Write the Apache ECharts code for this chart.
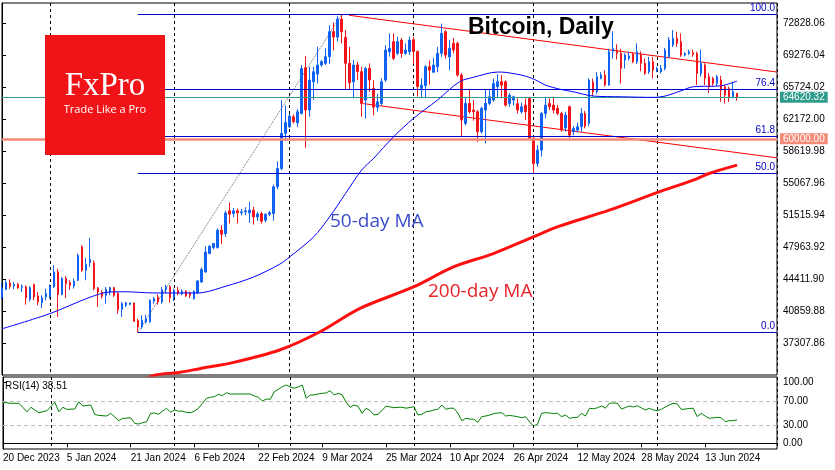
<!DOCTYPE html>
<html>
<head>
<meta charset="utf-8">
<script src="https://cdn.jsdelivr.net/npm/echarts@6/dist/echarts.min.js"></script>
<style>
  html, body { margin: 0; padding: 0; background: #fff; }
  #chart { width: 835px; height: 470px; }
</style>
</head>
<body>
<div id="chart"></div>
<script>
// daily candles, 20 Dec 2023 .. 21 Jun 2024
const open = [42400,43280,43980,43650,43840,43500,43540,42170,43800,42540,41790,42430,42430,43540,45210,42690,44470,44020,43650,44280,
  47990,45390,46240,46210,43430,42980,42610,42980,43460,42800,41060,41500,41610,41760,39830,39090,39650,39650,41940,42430,
  41870,43240,43540,42320,43170,42800,43060,42870,42240,42870,44095,45210,47245,47910,47910,49840,49470,51990,51690,51990,
  51770,51880,51770,52065,51320,51690,50950,51620,51690,54660,56700,60600,61330,62444,61777,62815,67900,63186,66337,67190,
  68190,68376,69117,71900,71300,73300,71267,68376,66337,68190,67449,64298,67820,65600,63500,63927,66522,69673,70785,69488,
  70971,69488,69673,71000,69700,65600,65900,68000,67400,68005,69500,71900,69100,70600,70600,67078,61703,63927,63186,63000,
  60776,63186,63927,64298,65781,66337,66337,63927,64298,63900,63000,63742,64484,60035,57255,58738,62815,63927,63742,63372,
  62816,61200,63557,60776,60962,61332,62800,61703,66300,65225,66700,67078,65966,69700,69850,69500,68750,68950,69400,68560,
  69300,68380,67450,68560,67630,67440,67820,69117,70415,71157,70786,69300,69490,69560,69490,67260,68190,66890,66700,66150,
  66520,65780,65600,64670,65040];
const high = [44000,44280,44390,44100,43980,43800,43720,43610,43910,42980,42610,43350,43800,45950,45580,44650,44760,44280,44470,47240,
  48170,46760,48990,46500,43540,43170,43540,43540,43540,42980,41870,41870,41800,41800,40020,40390,40460,42170,42430,42690,
  43540,43800,43720,43350,43540,43280,43170,43000,43170,44280,45690,48060,48170,48430,50030,50400,52000,52880,52300,52250,
  52200,52400,52990,52440,51900,51880,51700,52000,54900,57500,64300,63700,62800,62700,63300,68200,69200,68000,68000,70229,
  68750,70044,72600,72900,73650,73780,72083,70200,68750,68561,68005,68005,68376,66500,65000,66700,70400,71712,71712,71341,
  71200,70600,71341,71300,69800,66700,68200,68700,69000,70200,72800,72100,71000,71200,70800,67300,64650,65400,64300,63200,
  63557,65400,65400,66700,67200,67078,66500,65040,64800,64484,64000,64484,64669,60220,59294,63000,64669,64484,64669,63750,
  63000,63000,63700,61400,61800,63400,63100,66700,66700,67400,67400,67600,70000,71950,70500,70000,69500,69700,69600,70600,
  69700,68900,69100,69100,68000,68200,70100,71300,72083,71900,71700,69600,69900,69900,69670,69900,68380,67300,66900,67100,
  67000,66000,65800,66340,65100];
const low = [42200,43170,43350,43280,43350,42980,41570,41940,42060,41500,41200,42060,42240,43430,40200,42610,42320,43240,43350,44170,
  45210,44280,45760,43170,41310,42240,41680,42610,42430,40570,40200,41310,41500,39650,38500,38900,39460,39570,41680,41570,
  41680,42800,41800,41940,42610,42610,42430,42300,42130,42800,43980,45100,47170,47690,47800,48300,49100,50580,51300,50580,
  51500,51500,50660,50470,50900,50580,50700,51400,50900,54400,56500,59800,61200,61700,61300,62700,59000,62440,64300,66152,
  68000,68190,68300,69800,70800,70600,65410,65410,64480,66522,62440,62260,65225,62600,63000,63700,66300,69117,68747,69302,
  69000,69302,69302,68300,64700,64500,64500,66000,67300,67400,69100,68900,67600,69500,66900,60220,61500,62800,62000,59650,
  60590,59479,63742,64113,64500,64484,63557,63557,63700,62815,62800,62074,59900,56143,56884,58000,62259,63186,62815,62630,
  60780,60800,60100,60400,60700,60800,61150,61400,64700,65000,66600,65800,65900,68900,68800,66150,67800,68700,68400,68300,
  67500,67100,67200,66700,67400,67250,67600,68950,70200,70220,69100,69150,69300,69100,65966,66900,65966,65100,65900,65900,
  64113,63900,64100,64480,64220];
const close = [43450,44020,43610,43800,43430,43610,42320,43460,42430,41870,42320,42800,43610,45210,42720,44470,43910,43720,44170,47060,
  45390,46020,46610,43350,42980,42500,43280,43460,42610,41020,41680,41760,41760,39720,39090,39830,40020,42060,42240,41870,
  43240,43540,42320,43170,42800,43060,42540,42610,43060,44205,45470,47430,48060,48360,49840,49395,51760,51620,51990,51770,
  51880,51990,52065,51320,51650,50840,51620,51800,54660,56700,60600,61800,62520,61889,63000,67820,63190,66522,67449,68190,
  68561,69117,71900,71300,73300,71900,68376,66226,68190,67449,63927,67820,66522,63500,64100,66337,69858,70044,68932,70785,
  69488,69858,70971,69700,65800,65950,68000,67634,68190,69488,71712,69300,70044,69858,67078,62074,63927,63000,63000,60776,
  63371,63927,64669,66152,66337,65966,63742,64854,64669,63186,63557,63000,60035,57255,58738,62815,63742,63557,63186,62816,
  60962,62630,60406,61147,61332,62800,61400,66522,65200,66893,67078,65966,69673,70000,69500,67820,69300,69200,68560,69650,
  68380,67260,68560,67630,67820,67820,69860,70971,71157,70600,69300,69488,69670,69380,67260,68380,66700,65780,66150,66890,
  65410,64850,64670,65220,64620.32];

// moving averages as [day index, price]
const ma50 = [[0,38886],[12,40577],[22,42390],[27,42979],[31,43000],[38,42870],[49,42870],[56,43613],[63,44647],[69.5,46060],
  [72,46872],[78,49096],[82,51320],[86,53922],[90,56514],[93,57815],[98,60217],[103,62263],[109,64298],[114.5,66333],
  [118,66823],[124,67412],[126,67379],[131,66967],[134,66445],[136,65966],[139.5,65522],[143,65221],[148,64743],[155,64665],
  [163,64598],[166,64743],[170,65332],[173,65777],[180,65888],[184,66411]];
const ma200 = [[30,32300],[38.5,33755],[44,34016],[49.5,34461],[58,35161],[69.5,36529],[79.5,38531],[89.5,41133],[103,43535],
  [113,45759],[123,47250],[133,49096],[139.5,50286],[152,52065],[164.5,54100],[173,55401],[177,56146],[184,57070]];

// RSI(14) as [day index, value]
const rsi = [[0,67.5],[2,66],[4,66],[6,52],[7,59.4],[9,50.5],[11,53.8],[13,67.7],[14,52],[15,59.4],[16,56],[18,56.6],[19,68.6],
  [20,61.5],[22,63.2],[23,47.8],[24,46],[26,45],[27,49.5],[29,37.3],[30,41.2],[31,41.5],[32,42.2],[33,33],[34,31.8],[35,34],
  [36,35.6],[37,49.5],[38,50],[39,48],[40,53],[41,57.8],[42,51.2],[43,55],[44,53],[45,53],[46,51],[47,50.5],[48,53],[49,57.8],
  [50,66],[51,74.3],[52,76],[53,77],[54,80.9],[55,78.5],[56,83.5],[57,81],[58,81.4],[60,81.4],[62,81.4],[63,78],[64,76],
  [65,69.8],[66,73.1],[67,72.6],[68,85.1],[69,89],[70,93.4],[71,96.2],[72,93],[73,90.8],[74,93],[75,96.2],[76,74.3],[77,79.7],
  [78,80],[79,81.4],[80,82.5],[81,83],[82,86.8],[83,79.7],[84,82.5],[85,80],[86,68],[87,59.4],[88,63.2],[89,61],[90,49.5],
  [91,57.8],[92,54],[93,46.7],[94,48],[95,54],[96,61.5],[97,60],[98,58.7],[99,59.4],[100,59.4],[101,58],[102,59],[103,60.4],
  [104,46.7],[105,48],[106,52],[107,53],[108,55],[109,56],[110,63.2],[111,56],[112,58],[113,57.8],[114,50],[115,37.3],
  [116,41.2],[117,40],[118,39.6],[119,34.7],[120,43.9],[121,45],[122,46.7],[123,49],[124,50],[125,50.5],[126,45],[127,46],
  [128,45],[129,43.9],[130,42.2],[131,43.9],[132,35],[133,28.5],[134,31.8],[135,49.5],[136,50.5],[137,50],[138,49],[139,49.5],
  [140,43.9],[141,46.7],[142,41.2],[143,42.5],[144,42.9],[145,49.5],[146,45],[147,57.8],[148,57],[149,58.7],[150,61.5],
  [151,58],[152,66],[153,66.5],[154,66],[155,56.6],[156,59],[157,61.5],[158,60],[159,62],[160,58.5],[161,55],[162,57.8],
  [163,55],[164,53.8],[165,56],[166,60],[167,63.2],[168,66],[169,65],[170,56],[171,56.5],[172,57.5],[173,57.8],[174,43.9],
  [175,49.5],[176,45],[177,41.2],[178,42],[179,42.9],[180,42.2],[181,35.6],[182,37.3],[183,37.5],[184,38.51]];

// fibonacci retracement: swing low (23 Jan) -> swing high (14 Mar)
const fibLow = [34, 38500];
const fibHigh = [85, 73780];
const fibLevels = ['0.0', '50.0', '61.8', '76.4', '100.0'];
const fibRatios = [0, 0.5, 0.618, 0.764, 1];
// descending channel [start, end] as [day index, price]
const channelTop = [[86.9, 73718], [194, 67412]];
const channelBottom = [[90.4, 63909], [194, 57881]];

const lastPrice = 64620.32;
const supportLevel = 60000;
const priceTicks = [37307.86, 40859.88, 44411.90, 47963.92, 51515.94, 55067.96, 58619.98, 62172.00, 65724.02, 69276.04, 72828.06];
const rsiTicks = [0, 30, 70, 100];

const months = ['Jan', 'Feb', 'Mar', 'Apr', 'May', 'Jun', 'Jul', 'Aug', 'Sep', 'Oct', 'Nov', 'Dec'];
const dates = [];
for (let i = 0; i < 195; i++) {
  const d = new Date(Date.UTC(2023, 11, 20 + i));
  dates.push(d.getUTCDate() + ' ' + months[d.getUTCMonth()] + ' ' + d.getUTCFullYear());
}
const candles = close.map((c, i) => [open[i], c, low[i], high[i]]);

const fibSpan = fibHigh[1] - fibLow[1];
const fibLines = fibLevels.map((name, i) => {
  const p = fibLow[1] + fibRatios[i] * fibSpan;
  return [
    { coord: [fibLow[0], p], label: { formatter: name } },
    { coord: [194, p] }
  ];
});

const axisFont = { fontFamily: '"Liberation Sans", Arial, sans-serif', fontSize: 10, color: '#000' };
const monthStart = (idx, val) => val.indexOf('1 ') === 0;
const labelAt = (idx) => idx % 16 === 0 && idx <= 184;
const dashV = { show: true, interval: monthStart, lineStyle: { color: '#000', type: [3, 3], width: 1 } };

const chart = echarts.init(document.getElementById('chart'), null, { renderer: 'canvas' });

const option = {
  animation: false,
  backgroundColor: '#fff',
  grid: [
    { left: 2, top: 3, width: 775, height: 372, show: true, borderColor: '#000', borderWidth: 1 },
    { left: 2, top: 377, width: 775, height: 72, show: true, borderColor: '#000', borderWidth: 1 }
  ],
  xAxis: [
    {
      type: 'category', gridIndex: 0, data: dates, boundaryGap: false,
      axisLine: { show: false }, axisTick: { show: false }, axisLabel: { show: false },
      splitLine: dashV
    },
    {
      type: 'category', gridIndex: 1, data: dates, boundaryGap: false,
      axisLine: { show: true, lineStyle: { color: '#000' } },
      axisTick: { show: true, interval: labelAt, length: 4, lineStyle: { color: '#000' } },
      axisLabel: Object.assign({ interval: labelAt, align: 'left', margin: 4 }, axisFont),
      splitLine: dashV
    },
    { type: 'value', gridIndex: 0, min: 0, max: 194, show: false },
    { type: 'value', gridIndex: 1, min: 0, max: 194, show: false }
  ],
  yAxis: [
    {
      type: 'value', gridIndex: 0, position: 'right', min: 33755.84, max: 75083,
      splitLine: { show: false },
      axisLine: { show: true, lineStyle: { color: '#000' } },
      axisTick: { show: true, length: 4, customValues: priceTicks, lineStyle: { color: '#000' } },
      axisLabel: Object.assign({ customValues: priceTicks, margin: 6, formatter: (v) => v.toFixed(2) }, axisFont)
    },
    {
      type: 'value', gridIndex: 1, position: 'right', min: -9.4, max: 109.4,
      splitLine: { show: false },
      axisLine: { show: true, lineStyle: { color: '#000' } },
      axisTick: { show: true, length: 4, customValues: rsiTicks, lineStyle: { color: '#000' } },
      axisLabel: Object.assign({ customValues: rsiTicks, margin: 6, formatter: (v) => v.toFixed(2) }, axisFont)
    }
  ],
  series: [
    {
      name: 'fibo', type: 'line', xAxisIndex: 2, yAxisIndex: 0, z: 2,
      data: [fibLow, fibHigh], showSymbol: false, silent: true,
      lineStyle: { color: '#8c8c8c', width: 1, type: [2, 1] },
      markLine: {
        silent: true, symbol: 'none',
        lineStyle: { color: '#0000c8', width: 1.2, type: 'solid' },
        label: { position: 'insideEndTop', distance: [2, 1], color: '#0000c8', fontSize: 10, fontFamily: axisFont.fontFamily },
        data: fibLines
      }
    },
    {
      name: 'channel top', type: 'line', xAxisIndex: 2, yAxisIndex: 0, z: 2,
      data: channelTop, showSymbol: false, silent: true,
      lineStyle: { color: '#ff0000', width: 1 }
    },
    {
      name: 'channel bottom', type: 'line', xAxisIndex: 2, yAxisIndex: 0, z: 2,
      data: channelBottom, showSymbol: false, silent: true,
      lineStyle: { color: '#ff0000', width: 1 }
    },
    {
      name: 'BTC', type: 'candlestick', xAxisIndex: 0, yAxisIndex: 0, z: 4,
      data: candles, barWidth: 2,
      itemStyle: { color: '#0f62f2', color0: '#f2161c', borderColor: '#0f62f2', borderColor0: '#f2161c', borderWidth: 1 },
      markLine: {
        silent: true, symbol: 'none',
        label: { position: 'end', distance: 3, color: '#fff', fontSize: 10, fontFamily: axisFont.fontFamily, padding: [1, 3, 0, 3] },
        data: [
          { yAxis: lastPrice, lineStyle: { color: '#2e9c8c', width: 1, type: 'solid' },
            label: { formatter: '64620.32', backgroundColor: '#2e9c8c' } },
          { yAxis: supportLevel, lineStyle: { color: '#f58a78', width: 2.5, type: 'solid' },
            label: { formatter: '60000.00', backgroundColor: '#f58a78' } }
        ]
      }
    },
    {
      name: 'MA50', type: 'line', xAxisIndex: 2, yAxisIndex: 0, z: 5,
      data: ma50, showSymbol: false, smooth: 0.3, silent: true,
      lineStyle: { color: '#0000ff', width: 1 }
    },
    {
      name: 'MA200', type: 'line', xAxisIndex: 2, yAxisIndex: 0, z: 5,
      data: ma200, showSymbol: false, smooth: 0.3, silent: true,
      lineStyle: { color: '#ff1010', width: 3 }
    },
    {
      name: 'RSI', type: 'line', xAxisIndex: 3, yAxisIndex: 1, z: 3,
      data: rsi, showSymbol: false, silent: true,
      lineStyle: { color: '#008000', width: 1 },
      markLine: {
        silent: true, symbol: 'none', label: { show: false },
        lineStyle: { color: '#c0c0c0', type: [4, 3], width: 1 },
        data: [{ yAxis: 70 }, { yAxis: 30 }]
      }
    }
  ],
  graphic: [
    { type: 'rect', z: 100, shape: { x: 45, y: 35, width: 120, height: 120 }, style: { fill: '#f01418' } },
    { type: 'text', z: 101, x: 105, y: 86,
      style: { text: 'FxPro', fill: '#fff', font: '33px "Liberation Serif", "DejaVu Serif", serif', textAlign: 'center', textVerticalAlign: 'middle' } },
    { type: 'text', z: 101, x: 105, y: 110,
      style: { text: 'Trade Like a Pro', fill: '#fff', font: '11px "Open Sans", sans-serif', textAlign: 'center', textVerticalAlign: 'middle' } },
    { type: 'text', z: 50, x: 468, y: 28,
      style: { text: 'Bitcoin, Daily', fill: '#000', font: 'bold 23px "Liberation Sans", Arial, sans-serif', textAlign: 'left', textVerticalAlign: 'middle' } },
    { type: 'text', z: 50, x: 330, y: 222,
      style: { text: '50-day MA', fill: '#3b4cca', font: '19px "Open Sans", sans-serif', textAlign: 'left', textVerticalAlign: 'middle' } },
    { type: 'text', z: 50, x: 428, y: 292,
      style: { text: '200-day MA', fill: '#e8232a', font: '19px "Open Sans", sans-serif', textAlign: 'left', textVerticalAlign: 'middle' } },
    { type: 'text', z: 50, x: 5, y: 386,
      style: { text: 'RSI(14) 38.51', fill: '#000', font: '10px "Liberation Sans", Arial, sans-serif', textAlign: 'left', textVerticalAlign: 'middle' } }
  ]
};

chart.setOption(option);
window.addEventListener('resize', function () {
  chart.resize();
});
</script>
</body>
</html>
